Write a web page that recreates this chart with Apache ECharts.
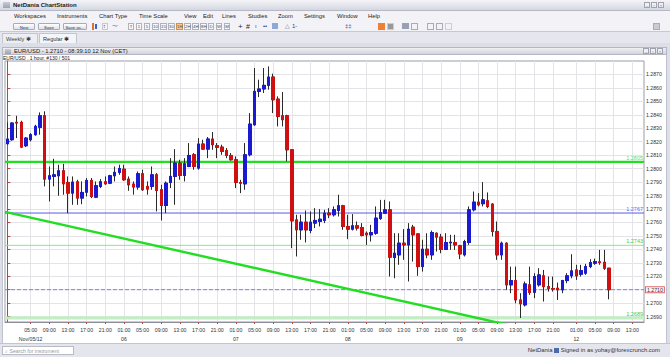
<!DOCTYPE html>
<html><head><meta charset="utf-8"><title>EUR/USD 1 hour</title>
<script src="https://cdn.jsdelivr.net/npm/echarts@6.0.0/dist/echarts.min.js"></script>
<style>
html,body{margin:0;padding:0;}
body{width:670px;height:357px;overflow:hidden;position:relative;background:#dcdee8;font-family:"Liberation Sans",Arial,sans-serif;color:#222;}
.abs{position:absolute;white-space:nowrap;}
#titlebar{left:0;top:0;width:670px;height:11px;background:linear-gradient(#f4f4f8,#d5d7e1);border-bottom:1px solid #b6b8c6;box-sizing:border-box;}
#titlebar .t{position:absolute;left:13px;top:1px;font-size:6px;font-weight:bold;line-height:9px;}
#menubar{left:0;top:11px;width:670px;height:10px;background:#f3f3f7;}
#menubar span{position:absolute;top:1px;font-size:5.8px;line-height:8px;}
#toolbar{left:0;top:21px;width:670px;height:11px;background:#f3f3f7;border-bottom:1px solid #c6c8d4;box-sizing:border-box;}
.btn{position:absolute;top:2px;height:7px;border:1px solid #a9abb9;border-radius:1px;background:linear-gradient(#ffffff,#e0e1e9);font-size:4.3px;line-height:7px;text-align:center;box-sizing:border-box;color:#333;}
.ic{position:absolute;top:2px;height:7px;width:6px;border:1px solid #b0b2c0;background:#f8f8fb;font-size:4.3px;line-height:6px;text-align:center;box-sizing:border-box;color:#444;}
#tabs{left:0;top:32px;width:670px;height:11px;background:#e6e7ee;}
.tab{position:absolute;top:1px;height:10px;font-size:5.6px;line-height:10px;padding-left:3px;border:1px solid #c2c4d0;border-bottom:none;box-sizing:border-box;background:#eceef3;color:#444;}
#winhead{left:2px;top:47px;width:665px;height:8px;background:linear-gradient(#f0f0f4,#d2d4dd);border:1px solid #b4b6c4;box-sizing:border-box;}
#winhead .t{position:absolute;left:11px;top:0px;font-size:5.8px;line-height:7px;color:#222;}
#info{left:3px;top:55px;font-size:5px;line-height:6px;color:#222;}
#chartbg{left:2px;top:55px;width:665px;height:288px;background:#fff;border-left:1px solid #c0c2cf;border-right:1px solid #c0c2cf;box-sizing:border-box;}
#chart{left:0;top:0;width:670px;height:357px;}
#status{left:0;top:343px;width:670px;height:14px;background:#e5e6ed;border-top:1px solid #c2c4d0;box-sizing:border-box;}
#search{left:2px;top:346px;width:72px;height:9px;background:#fff;border:1px solid #b8bac6;box-sizing:border-box;font-size:5.2px;line-height:8px;color:#999;padding-left:2px;}
#signed{right:10px;top:347px;font-size:5.9px;line-height:7px;color:#333;}
.wb{position:absolute;width:6px;height:6px;border:1px solid #a0a2b0;background:#eef0f4;box-sizing:border-box;font-size:4px;line-height:5px;text-align:center;color:#666;}
</style></head>
<body>
<div id="titlebar" class="abs"><div class="abs" style="left:3px;top:2px;width:7px;height:6px;background:linear-gradient(#c9cbd6,#9ea1b1);"></div><span class="t">NetDania ChartStation</span>
<div class="wb" style="left:644px;top:2px">–</div><div class="wb" style="left:651px;top:2px">▫</div><div class="wb" style="left:658px;top:2px">×</div></div>
<div id="menubar" class="abs">
<span style="left:14px">Workspaces</span><span style="left:57px">Instruments</span><span style="left:99px">Chart Type</span><span style="left:139px">Time Scale</span><span style="left:184px">View</span><span style="left:203px">Edit</span><span style="left:222px">Lines</span><span style="left:248px">Studies</span><span style="left:278px">Zoom</span><span style="left:304px">Settings</span><span style="left:337px">Window</span><span style="left:368px">Help</span>
</div>
<div id="toolbar" class="abs">
<div class="btn" style="left:13px;width:22px">New</div><div class="btn" style="left:38px;width:22px">Save</div><div class="btn" style="left:63px;width:24px">Save as...</div>
<div class="abs" style="left:92px;top:2px;width:2px;height:7px;background:#e0702a"></div><div class="abs" style="left:95px;top:3px;width:2px;height:5px;background:#3a5fc8"></div>
<div class="abs" style="left:102px;top:2px;width:6px;height:7px;border:1px solid #c8c8d4;box-sizing:border-box;font-size:5px;line-height:5px;color:#336">↕</div>
<div class="abs" style="left:112px;top:2px;width:7px;height:7px;font-size:6px;line-height:6px;color:#5577cc">〜</div>
<div class="ic" style="left:128px">T</div><div class="ic" style="left:136px">1</div><div class="ic" style="left:144px">5</div><div class="ic" style="left:152px;width:7px">10</div><div class="ic" style="left:160px;width:7px">15</div><div class="ic" style="left:168px;width:7px">30</div><div class="ic" style="left:176px;width:7px;background:#f6c890;border-color:#d09050">1H</div><div class="ic" style="left:184px;width:7px">2H</div><div class="ic" style="left:192px;width:7px">4H</div><div class="ic" style="left:200px;width:7px">8H</div><div class="ic" style="left:208px">D</div><div class="ic" style="left:216px">W</div><div class="ic" style="left:224px">M</div>
<div class="abs" style="left:238px;top:1px;font-size:8px;line-height:9px;color:#223">+</div><div class="abs" style="left:246px;top:1px;font-size:7px;line-height:9px;color:#223">#</div><div class="abs" style="left:255px;top:1px;font-size:6px;line-height:9px;color:#446">ı</div><div class="abs" style="left:263px;top:1px;font-size:6px;line-height:9px;color:#446">••</div>
<div class="abs" style="left:272px;top:2px;width:6px;height:6px;background:#8fa8d8"></div>
<div class="abs" style="left:285px;top:1px;font-size:6px;line-height:9px;color:#667">△</div><div class="abs" style="left:292px;top:1px;font-size:6px;line-height:9px;color:#446">1-</div>
<div class="abs" style="left:345px;top:1px;font-size:6px;line-height:9px;color:#446">‡‡</div>
<div class="abs" style="left:378px;top:2px;width:7px;height:7px;background:#f08030"></div><div class="abs" style="left:387px;top:2px;width:7px;height:7px;background:#999;border:1px solid #ccc;box-sizing:border-box"></div>
<div class="abs" style="left:402px;top:2px;width:7px;height:6px;background:#9aa0b4"></div><div class="abs" style="left:411px;top:2px;width:7px;height:7px;border:1px solid #aab;box-sizing:border-box"></div>
<div class="abs" style="left:427px;top:2px;width:7px;height:7px;border:1px solid #aab;box-sizing:border-box"></div><div class="abs" style="left:436px;top:2px;width:7px;height:7px;border:1px solid #aab;box-sizing:border-box"></div><div class="abs" style="left:445px;top:2px;width:7px;height:7px;border:1px solid #ccd;box-sizing:border-box"></div>
<div class="abs" style="left:653px;top:2px;width:7px;height:7px;background:#c8cad6;border:1px solid #aab;box-sizing:border-box"></div>
</div>
<div id="tabs" class="abs"><div class="tab" style="left:2px;width:36px">Weekly ✱</div><div class="tab" style="left:39px;width:38px;background:#f4f5f8;color:#333">Regular ✱</div></div>
<div id="chartbg" class="abs"></div>
<div id="winhead" class="abs"><div class="abs" style="left:2px;top:1px;width:6px;height:5px;background:linear-gradient(#c9cbd6,#9ea1b1);"></div><span class="t">EUR/USD - 1.2710 - 08:39:10 12 Nov (CET)</span>
<div class="wb" style="left:640px;top:0px">–</div><div class="wb" style="left:647px;top:0px">▫</div><div class="wb" style="left:654px;top:0px">×</div></div>
<div id="info" class="abs">EUR/USD , 1 hour, #130 / 501</div>
<div id="status" class="abs"></div>
<div id="search" class="abs">⌕ Search for instrument</div>
<div id="signed" class="abs">NetDania <span style="display:inline-block;width:5px;height:5px;background:#4a6aa8;vertical-align:-1px"></span> Signed in as yohay@forexcrunch.com</div>
<div id="chart" class="abs"></div>
<script>
// ---- data (EUR/USD 1 hour, Nov 5 00:00 -> Nov 12 08:00 CET) ----
const openP = [1.28185,1.28215,1.28344,1.28344,1.28170,1.28215,1.28252,1.28307,1.28393,1.27922,
1.27942,1.27947,1.27984,1.27897,1.27818,1.27902,1.27781,1.27825,1.27912,1.27788,
1.27868,1.27902,1.27892,1.27947,1.27972,1.27996,1.27922,1.27885,1.27863,1.27962,
1.27868,1.27868,1.27954,1.27843,1.27726,1.27897,1.27942,1.28041,1.27949,1.28016,
1.28103,1.28004,1.28183,1.28145,1.28220,1.28170,1.28160,1.28135,1.28098,1.28066,
1.27897,1.27887,1.28103,1.28326,1.28574,1.28592,1.28619,1.28681,1.28517,1.28393,
1.28393,1.28140,1.27619,1.27545,1.27602,1.27540,1.27595,1.27607,1.27615,1.27669,
1.27657,1.27689,1.27724,1.27570,1.27550,1.27575,1.27562,1.27520,1.27508,1.27520,
1.27629,1.27669,1.27694,1.27339,1.27359,1.27446,1.27433,1.27565,1.27515,1.27272,
1.27401,1.27359,1.27520,1.27491,1.27399,1.27448,1.27451,1.27426,1.27359,1.27451,
1.27694,1.27751,1.27739,1.27761,1.27736,1.27533,1.27359,1.27446,1.27136,1.27168,
1.27024,1.26987,1.27136,1.27081,1.27136,1.27203,1.27123,1.27109,1.27111,1.27099,
1.27168,1.27203,1.27247,1.27215,1.27223,1.27272,1.27297,1.27307,1.27304,1.27260];
const closeP = [1.28220,1.28339,1.28339,1.28160,1.28227,1.28252,1.28314,1.28393,1.27922,1.27947,
1.27954,1.27984,1.27887,1.27818,1.27900,1.27781,1.27823,1.27912,1.27793,1.27873,
1.27902,1.27887,1.27947,1.27972,1.28001,1.27917,1.27880,1.27863,1.27962,1.27843,
1.27848,1.27954,1.27838,1.27726,1.27892,1.27942,1.28041,1.27949,1.28036,1.28098,
1.28016,1.28183,1.28145,1.28220,1.28178,1.28158,1.28128,1.28098,1.28066,1.27897,
1.27892,1.28103,1.28331,1.28574,1.28592,1.28619,1.28681,1.28512,1.28388,1.28364,
1.28140,1.27612,1.27545,1.27602,1.27545,1.27602,1.27615,1.27624,1.27669,1.27657,
1.27694,1.27724,1.27570,1.27550,1.27575,1.27558,1.27503,1.27508,1.27525,1.27632,
1.27674,1.27694,1.27342,1.27371,1.27446,1.27433,1.27550,1.27508,1.27272,1.27401,
1.27359,1.27525,1.27491,1.27399,1.27451,1.27453,1.27433,1.27366,1.27458,1.27694,
1.27751,1.27731,1.27768,1.27719,1.27533,1.27359,1.27446,1.27136,1.27168,1.27024,
1.26995,1.27143,1.27079,1.27198,1.27210,1.27123,1.27109,1.27106,1.27099,1.27168,
1.27203,1.27240,1.27203,1.27242,1.27272,1.27302,1.27309,1.27302,1.27260,1.27100];
const lowP = [1.28180,1.28207,1.28227,1.28153,1.28160,1.28202,1.28245,1.28252,1.27868,1.27756,
1.27868,1.27798,1.27806,1.27669,1.27731,1.27731,1.27735,1.27793,1.27781,1.27781,
1.27855,1.27880,1.27885,1.27905,1.27954,1.27910,1.27835,1.27806,1.27843,1.27835,
1.27806,1.27843,1.27682,1.27615,1.27669,1.27855,1.27731,1.27917,1.27905,1.28011,
1.27992,1.27992,1.28140,1.28078,1.28140,1.28078,1.28103,1.28078,1.28060,1.27855,
1.27818,1.27843,1.28091,1.28319,1.28532,1.28562,1.28587,1.28413,1.28314,1.28314,
1.28054,1.27409,1.27347,1.27471,1.27451,1.27520,1.27558,1.27570,1.27595,1.27632,
1.27644,1.27644,1.27545,1.27476,1.27540,1.27540,1.27496,1.27433,1.27458,1.27508,
1.27619,1.27664,1.27198,1.27185,1.27285,1.27322,1.27161,1.27309,1.27203,1.27235,
1.27334,1.27322,1.27384,1.27371,1.27396,1.27396,1.27396,1.27327,1.27347,1.27433,
1.27682,1.27719,1.27719,1.27706,1.27496,1.27322,1.27322,1.27099,1.27074,1.26999,
1.26890,1.26975,1.27061,1.27037,1.27123,1.27012,1.27086,1.27086,1.27024,1.27074,
1.27148,1.27185,1.27173,1.27198,1.27210,1.27260,1.27285,1.27285,1.27247,1.27029];
const highP = [1.28344,1.28344,1.28393,1.28356,1.28235,1.28264,1.28326,1.28418,1.28426,1.28016,
1.28073,1.28029,1.28036,1.27942,1.27942,1.27917,1.27905,1.27930,1.27930,1.27905,
1.27922,1.27942,1.27954,1.28016,1.28029,1.28029,1.27942,1.27905,1.27979,1.27992,
1.27905,1.28016,1.27967,1.27880,1.27905,1.28078,1.28145,1.28066,1.28078,1.28190,
1.28116,1.28227,1.28215,1.28235,1.28272,1.28190,1.28178,1.28153,1.28116,1.28091,
1.27917,1.28190,1.28413,1.28748,1.28661,1.28748,1.28760,1.28706,1.28537,1.28569,
1.28401,1.28145,1.27657,1.27657,1.27689,1.27682,1.27706,1.27699,1.27694,1.27706,
1.27719,1.27806,1.27731,1.27657,1.27662,1.27607,1.27595,1.27533,1.27582,1.27719,
1.27768,1.27768,1.27756,1.27520,1.27520,1.27550,1.27595,1.27582,1.27520,1.27471,
1.27520,1.27540,1.27525,1.27515,1.27520,1.27508,1.27508,1.27433,1.27471,1.27719,
1.27830,1.27818,1.27900,1.27823,1.27744,1.27607,1.27458,1.27451,1.27272,1.27272,
1.27074,1.27161,1.27272,1.27223,1.27260,1.27247,1.27198,1.27198,1.27153,1.27173,
1.27223,1.27364,1.27285,1.27285,1.27292,1.27327,1.27331,1.27396,1.27396,1.27260];

// session days and hours on the category axis (weekend collapsed)
const sessionDays = [
  {key:'11-05', hours:[0,1,2,3,4,5,6,7,8,9,10,11,12,13,14,15,16,17,18,19,20,21,22,23]},
  {key:'11-06', hours:[0,1,2,3,4,5,6,7,8,9,10,11,12,13,14,15,16,17,18,19,20,21,22,23]},
  {key:'11-07', hours:[0,1,2,3,4,5,6,7,8,9,10,11,12,13,14,15,16,17,18,19,20,21,22,23]},
  {key:'11-08', hours:[0,1,2,3,4,5,6,7,8,9,10,11,12,13,14,15,16,17,18,19,20,21,22,23]},
  {key:'11-09', hours:[0,1,2,3,4,5,6,7,8,9,10,11,12,13,14,15,16,17,18,19,20,21,22,23]},
  {key:'11-11', hours:[23]},
  {key:'11-12', hours:[0,1,2,3,4,5,6,7,8,9,10,11,12,13,14,15]}
];
const firstDateLabel = 'Nov/05/12';
const yTickValues = [1.2690,1.2700,1.2710,1.2720,1.2730,1.2740,1.2750,1.2760,1.2770,1.2780,1.2790,1.2800,1.2810,1.2820,1.2830,1.2840,1.2850,1.2860,1.2870];

// drawn study lines (horizontal levels + trend line)
const hLevels = [1.2805, 1.2767, 1.2743, 1.2710, 1.2689];
const hColors = ['#1ee01e', '#5a5ae6', '#86ea86', '#5c5cf2', '#bff0bf'];
const hLabelColors = ['#66dd66', '#6a6aee', '#44cc44', '#333333', '#44cc44'];
const hWidths = [2.2, 1, 1, 1, 3];
const trendX = [-0.5, 110];
const trendY = [1.27679, 1.26818];

const categories = [];
sessionDays.forEach(d => d.hours.forEach(h => categories.push(d.key + ' ' + String(h).padStart(2,'0') + ':00')));
const xMin = -0.5, xMax = categories.length - 0.5;

const wickData = openP.map((o,i) => [o, closeP[i], lowP[i], highP[i]]);
const bodyData = openP.map((o,i) => [o, closeP[i], Math.min(o, closeP[i]), Math.max(o, closeP[i])]);

function hourOf(v){ return parseInt(v.slice(6,8),10); }
function showTick(idx, v){ return idx > 1 && hourOf(v) % 4 === 1; }

const FONT = '"Liberation Sans", Arial, sans-serif';

const levelSeries = hLevels.map((lv, k) => {
  const isCurrent = k === 3;
  return {
    type:'line', name:'level' + k, xAxisIndex:1, data:[[xMin, lv], [xMax, lv]],
    symbol:'none', silent:true, z: k === 0 ? 4 : 3, color:hColors[k],
    lineStyle:{color:hColors[k], width:hWidths[k], type: isCurrent ? [4,2] : 'solid', opacity: isCurrent ? 0.75 : 1},
    markLine:{symbol:'none', silent:true, animation:false, precision:5,
      lineStyle:{color:'rgba(255,255,255,0)', width:1, type:'solid'},
      label: isCurrent
        ? {show:true, position:'end', formatter:lv.toFixed(4), color:'#333', fontSize:5.2, fontFamily:FONT, distance:2, backgroundColor:'#fff4f4', borderColor:'#e06a6a', borderWidth:1, padding:[0,1]}
        : {show:true, position:'insideEndTop', formatter:lv.toFixed(4), color:hLabelColors[k], fontSize:5.5, fontFamily:FONT, distance:1},
      data:[{yAxis:lv}]
    }
  };
});

const chart = echarts.init(document.getElementById('chart'), null, {renderer:'svg'});
chart.setOption({
  animation:false,
  backgroundColor:'transparent',
  grid:{left:5, right:26, top:61, bottom:35, show:true, borderColor:'#9a9ca8', borderWidth:1, backgroundColor:'#ffffff'},
  xAxis:[{
    type:'category', data:categories, boundaryGap:true,
    axisLine:{show:true, lineStyle:{color:'#8a8c98', width:1}},
    axisTick:{show:true, alignWithLabel:true, interval:showTick, length:2, lineStyle:{color:'#c04040'}},
    splitLine:{show:true, alignWithLabel:true, interval:showTick, lineStyle:{color:'#e4e4e8', width:1}},
    axisLabel:{interval:showTick, fontSize:5.2, color:'#333', fontFamily:FONT, margin:3, lineHeight:9,
      formatter:(v, idx) => {
        const hh = v.slice(6);
        const day = v.slice(3,5);
        if (idx === 5) return hh + '\n' + firstDateLabel;
        if (hh === '01:00') return hh + '\n' + day;
        return hh;
      }}
  },{
    type:'value', min:xMin, max:xMax, show:false
  }],
  yAxis:{
    type:'value', position:'right', min:1.2686, max:1.2880, scale:true,
    axisLine:{show:true, lineStyle:{color:'#666', width:1}},
    axisTick:{show:true, length:3, customValues:yTickValues, lineStyle:{color:'#c04040'}},
    axisLabel:{customValues:yTickValues, fontSize:5.2, color:'#333', fontFamily:FONT, margin:2, formatter:v => v.toFixed(4)},
    splitLine:{show:true, lineStyle:{color:'#e4e4e8', width:1}}
  },
  series:[
    ...levelSeries,
    {
      type:'candlestick', name:'wick', data:wickData, barWidth:3, z:6,
      itemStyle:{color:'#2a2a2a', color0:'#2a2a2a', borderColor:'#2a2a2a', borderColor0:'#2a2a2a', borderWidth:1},
      silent:true
    },{
      type:'candlestick', name:'body', data:bodyData, barWidth:3, z:7,
      itemStyle:{color:'#1a1ad2', color0:'#d01010', borderColor:'#1a1ad2', borderColor0:'#d01010', borderWidth:1},
      silent:true
    },{
      type:'line', name:'trend', xAxisIndex:1, data:[[trendX[0],trendY[0]],[trendX[1],trendY[1]]], symbol:'none', silent:true,
      color:'#22dd22', lineStyle:{color:'#22dd22', width:2.4}, clip:true, z:5
    }
  ]
});
</script>
</body></html>
